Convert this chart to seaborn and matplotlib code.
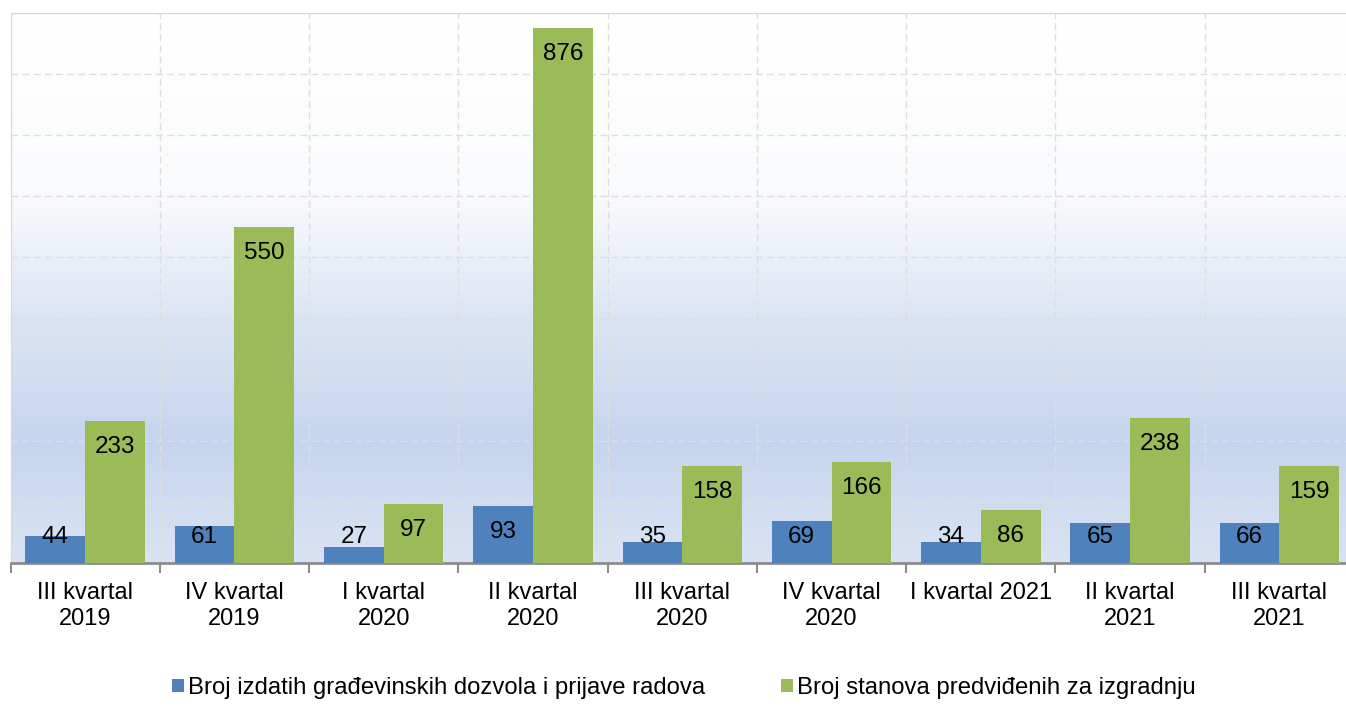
import numpy as np
import pandas as pd
import matplotlib
matplotlib.use("Agg")
import matplotlib.pyplot as plt
from matplotlib.colors import LinearSegmentedColormap
import seaborn as sns

quarters = ["III kvartal\n2019", "IV kvartal\n2019", "I kvartal\n2020", "II kvartal\n2020",
            "III kvartal\n2020", "IV kvartal\n2020", "I kvartal 2021", "II kvartal\n2021",
            "III kvartal\n2021"]
permits = [44, 61, 27, 93, 35, 69, 34, 65, 66]
flats = [233, 550, 97, 876, 158, 166, 86, 238, 159]
series_names = ["Broj izdatih građevinskih dozvola i prijave radova",
                "Broj stanova predviđenih za izgradnju"]
colors = ["#4f81bd", "#9bbb59"]

df = pd.DataFrame({
    "kvartal": quarters * 2,
    "vrijednost": permits + flats,
    "serija": [series_names[0]] * len(quarters) + [series_names[1]] * len(quarters),
})

sns.set_style("white")
plt.rcParams["font.family"] = ["Liberation Sans", "DejaVu Sans"]
plt.rcParams["text.color"] = "black"

fig = plt.figure(figsize=(13.46, 7.09), dpi=100)
ax = fig.add_axes([10.5 / 1346, 1 - 563 / 709, 1343.5 / 1346, 550 / 709])

# background gradient (bottom -> top)
grad = LinearSegmentedColormap.from_list("bg", [
    (0.0, "#dae3f3"), (0.22, "#c6d5ed"), (0.45, "#dde5f4"),
    (0.56, "#ebf0f8"), (0.68, "#fafbfd"), (1.0, "#ffffff")])
ax.imshow(np.linspace(0, 1, 256).reshape(-1, 1), cmap=grad, origin="lower",
          extent=[0, 1, 0, 1], transform=ax.transAxes, aspect="auto", zorder=0)

sns.barplot(data=df, x="kvartal", y="vrijednost", hue="serija", palette=colors,
            width=0.8, gap=0, saturation=1, linewidth=0, ax=ax, zorder=3, legend=True)

for cont in ax.containers:
    for bar in cont:
        v = bar.get_height()
        ax.text(bar.get_x() + bar.get_width() / 2, max(v - 42.5, 42.5), f"{v:.0f}",
                ha="center", va="center", fontsize=17.5, color="black", zorder=5)

ax.set_xlim(-0.5, len(quarters) - 0.5)
ax.set_ylim(0, 900)
ax.set_yticks(np.arange(0, 901, 100))
ax.set_yticklabels([])
ax.tick_params(axis="y", length=0)
ax.set_xticks(np.arange(len(quarters)) - 0.5, minor=True)
ax.tick_params(axis="x", which="major", length=0, pad=14, labelsize=17, labelcolor="black")
ax.tick_params(axis="x", which="minor", bottom=True, length=7, width=1.5,
               color="#8c8c8c", direction="out")
ax.grid(axis="y", which="major", color="#dedede", linestyle=(0, (5, 3)), linewidth=1)
ax.grid(axis="x", which="minor", color="#dedede", linestyle=(0, (5, 3)), linewidth=1)
ax.grid(axis="x", which="major", visible=False)
ax.set_axisbelow(True)
ax.set_xlabel("")
ax.set_ylabel("")

for side in ["left", "top", "right"]:
    ax.spines[side].set_color("#d9d9d9")
ax.spines["bottom"].set_color("#8c8c8c")
ax.spines["bottom"].set_linewidth(2)

handles, labels = ax.get_legend_handles_labels()
ax.legend_.remove()
fig.legend(handles, labels, loc="center", bbox_to_anchor=(684 / 1346, 1 - 688 / 709),
           ncol=2, frameon=False, fontsize=17.2, handlelength=0.5, handleheight=0.5,
           handletextpad=0.15, columnspacing=3.2, borderpad=0, labelcolor="black")

fig.savefig("out.png", dpi=100, facecolor="white")
